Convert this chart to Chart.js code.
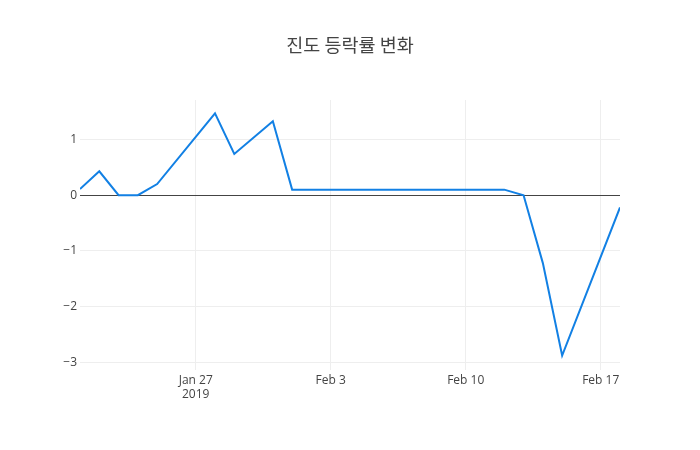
<!DOCTYPE html>
<html lang="ko">
<head>
    <meta charset="UTF-8">
    <title>진도 등락률 변화</title>
    <script src="https://cdn.jsdelivr.net/npm/chart.js@4.4.1/dist/chart.umd.min.js"></script>
    <style>
        body { margin: 0; padding: 0; background: #fff; }
        .chart-box { width: 700px; height: 450px; position: relative; }
    </style>
</head>
<body>
    <div class="chart-box">
        <canvas id="rateChart"></canvas>
    </div>
    <script>
        // readings (only the corners of the line)
        const dates = ['2019-01-21', '2019-01-22', '2019-01-23', '2019-01-24', '2019-01-25',
                       '2019-01-28', '2019-01-29', '2019-01-31', '2019-02-01', '2019-02-12',
                       '2019-02-13', '2019-02-14', '2019-02-15', '2019-02-18'];
        const rates = [0.11, 0.43, 0, 0, 0.2, 1.47, 0.74, 1.33, 0.1, 0.1, 0, -1.22, -2.88, -0.22];
        const tickDates = ['2019-01-27', '2019-02-03', '2019-02-10', '2019-02-17'];
        const tickLabels = [['Jan 27', '2019'], 'Feb 3', 'Feb 10', 'Feb 17'];
        const yTicks = [-3, -2, -1, 0, 1];

        const DAY = 86400000;
        const start = Date.parse('2019-01-21');
        const toDay = d => (Date.parse(d) - start) / DAY;
        const tickDays = tickDates.map(toDay);

        new Chart(document.getElementById('rateChart'), {
            type: 'line',
            data: {
                datasets: [{
                    data: dates.map((d, i) => ({ x: toDay(d), y: rates[i] })),
                    borderColor: 'rgb(18, 128, 228)',
                    borderWidth: 2,
                    pointRadius: 0,
                    tension: 0,
                    fill: false
                }]
            },
            options: {
                responsive: true,
                maintainAspectRatio: false,
                animation: false,
                layout: { padding: 0 },
                plugins: {
                    legend: { display: false },
                    tooltip: { enabled: false },
                    title: {
                        display: true,
                        text: '진도 등락률 변화',
                        color: '#444',
                        font: { family: '"Noto Sans CJK KR", "Open Sans", sans-serif', size: 18.5, weight: 'normal' },
                        padding: { top: 33.9, bottom: 43.9 }
                    }
                },
                scales: {
                    x: {
                        type: 'linear',
                        min: 0,
                        max: toDay('2019-02-18'),
                        afterBuildTicks: scale => { scale.ticks = tickDays.map(v => ({ value: v })); },
                        afterFit: scale => { scale.height = 80; },
                        grid: { color: '#eee', lineWidth: 1, drawTicks: false },
                        border: { display: false },
                        ticks: {
                            padding: 3,
                            color: '#444',
                            font: { family: '"Open Sans", sans-serif', size: 12 },
                            maxRotation: 0,
                            autoSkip: false,
                            callback: v => tickLabels[tickDays.indexOf(v)]
                        }
                    },
                    y: {
                        min: -3.14,
                        max: 1.71,
                        afterBuildTicks: scale => { scale.ticks = yTicks.map(v => ({ value: v })); },
                        afterFit: scale => { scale.width = 80; },
                        grid: {
                            drawTicks: false,
                            color: ctx => ctx.tick && ctx.tick.value === 0 ? '#444' : '#eee',
                            lineWidth: 1
                        },
                        border: { display: false },
                        ticks: {
                            padding: 3,
                            color: '#444',
                            font: { family: '"Open Sans", sans-serif', size: 12 },
                            callback: v => (v < 0 ? '\u2212' + Math.abs(v) : String(v))
                        }
                    },
                    // empty right margin, keeps the title centred on the page
                    yRight: {
                        position: 'right',
                        min: -3.14,
                        max: 1.71,
                        afterFit: scale => { scale.width = 80; },
                        grid: { display: false },
                        border: { display: false },
                        ticks: { display: false }
                    }
                }
            }
        });
    </script>
</body>
</html>
